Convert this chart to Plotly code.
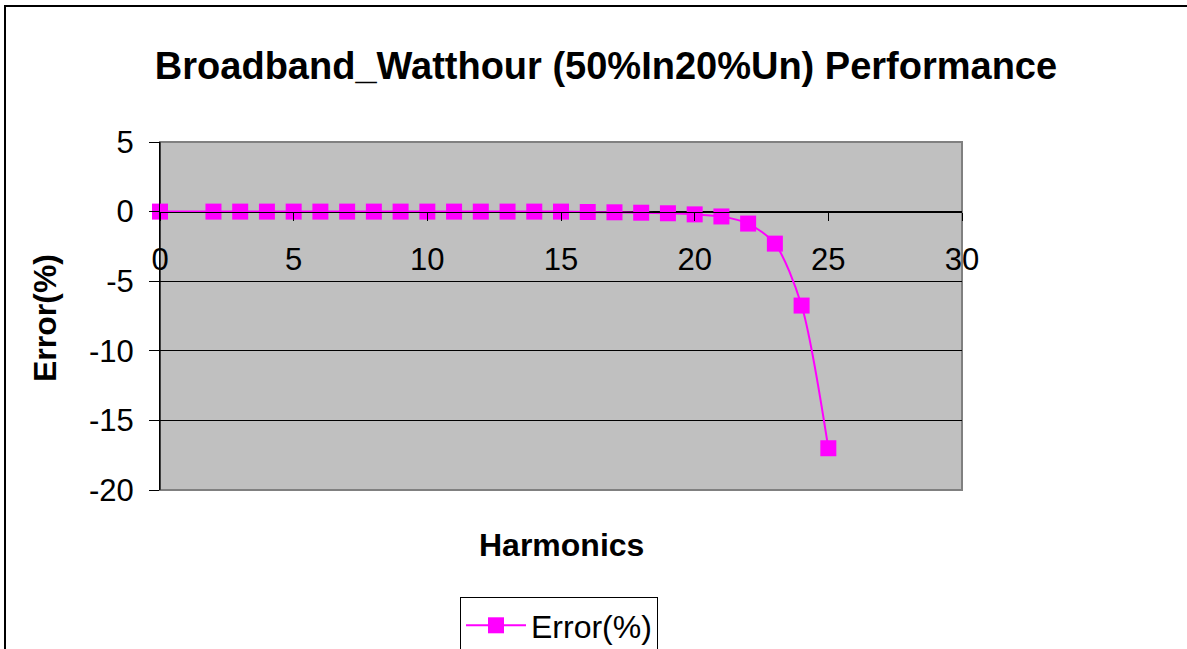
import plotly.graph_objects as go

harmonics = [0, 2, 3, 4, 5, 6, 7, 8, 9, 10, 11, 12, 13, 14, 15, 16, 17, 18, 19, 20, 21, 22, 23, 24, 25]
error_pct = [0.0, 0.0, 0.0, 0.0, 0.0, 0.0, 0.0, 0.0, 0.0, 0.0, 0.0, 0.0, 0.0, 0.0, 0.0,
             -0.03, -0.05, -0.08, -0.12, -0.2, -0.35, -0.86, -2.3, -6.75, -17.0]
x_ticks = [0, 5, 10, 15, 20, 25, 30]
y_ticks = [-20, -15, -10, -5, 0, 5]

FONT = "Liberation Sans, Arial, sans-serif"

L, R, T, B = 160, 962, 142, 490      # plot area in screen pixels
W, H = 1187, 649
pw, ph = R - L, B - T

def px_x(p):
    return (p - L) / pw

def px_y(p):
    return (B - p) / ph

fig = go.Figure()
fig.add_trace(go.Scatter(
    x=harmonics, y=error_pct, mode="lines+markers", name="Error(%)",
    line=dict(color="#FF00FF", width=2, shape="spline", smoothing=0.8),
    marker=dict(symbol="square", size=16, color="#FF00FF", line=dict(width=0)),
    cliponaxis=False,
))

fig.update_layout(
    width=W, height=H,
    margin=dict(l=L, r=W - R, t=T, b=H - B, autoexpand=False),
    paper_bgcolor="white", plot_bgcolor="#C0C0C0",
    font=dict(family=FONT, color="black", size=31),
    title=dict(text="<b>Broadband_Watthour (50%In20%Un) Performance</b>",
               x=606 / W, xref="container", xanchor="center",
               y=1 - 66 / H, yref="container", yanchor="middle",
               font=dict(size=38, family=FONT, color="black")),
    showlegend=True,
    legend=dict(x=px_x(559), xanchor="center", y=px_y(597), yanchor="top",
                bordercolor="black", borderwidth=1, bgcolor="white",
                font=dict(size=32, family=FONT), itemwidth=60),
    xaxis=dict(range=[0, 30], tickvals=x_ticks, ticktext=[str(v) for v in x_ticks],
               showgrid=False, zeroline=False,
               showline=True, linecolor="black", linewidth=1,
               ticks="outside", ticklen=8, tickcolor="black",
               anchor="free", position=0.8, ticklabelstandoff=12,
               tickfont=dict(size=31, family=FONT)),
    yaxis=dict(range=[-20, 5], tickvals=y_ticks, ticktext=[str(v) for v in y_ticks],
               showgrid=True, gridcolor="black",
               gridwidth=1, zeroline=False, showline=True, linecolor="black",
               linewidth=1, ticks="outside", ticklen=10, tickcolor="black",
               ticklabelstandoff=9,
               tickfont=dict(size=31, family=FONT)),
    shapes=[
        dict(type="rect", xref="paper", yref="paper", x0=0, x1=1, y0=0, y1=1,
             line=dict(color="#808080", width=2), layer="between"),
        dict(type="line", xref="paper", yref="paper", x0=0, x1=0, y0=0, y1=1,
             line=dict(color="black", width=1), layer="between"),
        dict(type="rect", xref="paper", yref="paper",
             x0=px_x(5), x1=px_x(1200), y0=px_y(6), y1=px_y(700),
             line=dict(color="black", width=2), fillcolor="rgba(0,0,0,0)"),
    ],
    annotations=[
        dict(text="<b>Harmonics</b>", xref="paper", yref="paper",
             x=px_x(561), y=px_y(545), xanchor="center", yanchor="middle",
             showarrow=False, font=dict(size=32, family=FONT)),
        dict(text="<b>Error(%)</b>", xref="paper", yref="paper",
             x=px_x(45), y=px_y(318), xanchor="center", yanchor="middle",
             textangle=-90, showarrow=False, font=dict(size=32, family=FONT)),
    ],
)

fig.write_html("out.html",
               config={"displayModeBar": False},
               post_script="document.body.style.margin='0';document.body.style.overflow='hidden';")
